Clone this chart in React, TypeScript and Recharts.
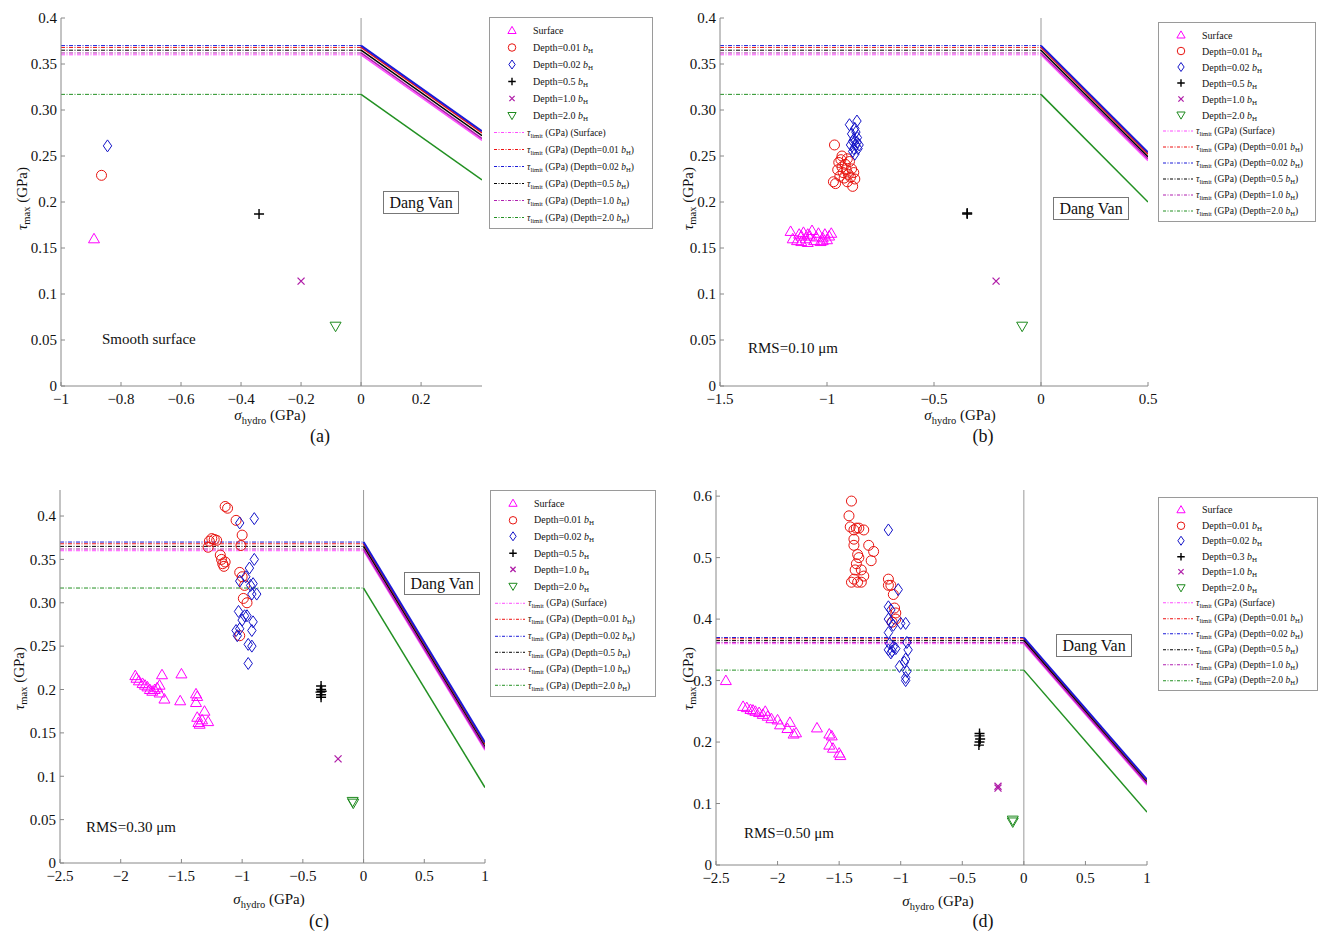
import React from 'react';
import { ComposedChart, Scatter, Line, XAxis, YAxis, ReferenceLine } from 'recharts';

type Pt = [number, number];

// ---- panel (a) smooth surface
const aSurface: Pt[] = [[-0.89, 0.160]];
const aDepth001: Pt[] = [[-0.865, 0.229]];
const aDepth002: Pt[] = [[-0.845, 0.261]];
const aDepth05: Pt[] = [[-0.34, 0.187]];
const aDepth10: Pt[] = [[-0.2, 0.114]];
const aDepth20: Pt[] = [[-0.085, 0.065]];

// ---- panel (b) RMS=0.10
const bSurface: Pt[] = [
  [-1.17, 0.168], [-1.16, 0.160], [-1.14, 0.158], [-1.13, 0.165], [-1.12, 0.157], [-1.11, 0.167],
  [-1.10, 0.160], [-1.09, 0.156], [-1.08, 0.163], [-1.07, 0.169], [-1.06, 0.158], [-1.05, 0.162],
  [-1.04, 0.166], [-1.03, 0.157], [-1.02, 0.161], [-1.01, 0.165], [-1.0, 0.159], [-0.99, 0.163],
  [-0.98, 0.166], [-1.12, 0.163], [-1.09, 0.165], [-1.02, 0.158],
];
const bDepth001: Pt[] = [
  [-0.965, 0.262], [-0.97, 0.222], [-0.96, 0.220], [-0.95, 0.235], [-0.945, 0.243], [-0.94, 0.228],
  [-0.935, 0.246], [-0.93, 0.238], [-0.925, 0.232], [-0.92, 0.226], [-0.915, 0.241], [-0.91, 0.235],
  [-0.905, 0.222], [-0.90, 0.230], [-0.895, 0.244], [-0.89, 0.227], [-0.885, 0.236], [-0.88, 0.217],
  [-0.875, 0.232], [-0.87, 0.225], [-0.93, 0.250], [-0.905, 0.247],
];
const bDepth002: Pt[] = [
  [-0.895, 0.284], [-0.89, 0.262], [-0.885, 0.274], [-0.88, 0.255], [-0.875, 0.268], [-0.87, 0.280],
  [-0.865, 0.262], [-0.86, 0.288], [-0.858, 0.270], [-0.855, 0.258], [-0.87, 0.252], [-0.86, 0.265],
  [-0.865, 0.276], [-0.85, 0.262], [-0.88, 0.266], [-0.875, 0.258],
];
const bDepth05: Pt[] = [[-0.345, 0.187], [-0.345, 0.188]];
const bDepth10: Pt[] = [[-0.21, 0.114]];
const bDepth20: Pt[] = [[-0.088, 0.065]];

// ---- panel (c) RMS=0.30
const cSurface: Pt[] = [
  [-1.88, 0.216], [-1.87, 0.213], [-1.85, 0.210], [-1.82, 0.207], [-1.80, 0.205], [-1.78, 0.203],
  [-1.76, 0.200], [-1.74, 0.198], [-1.72, 0.200], [-1.70, 0.202], [-1.68, 0.205], [-1.68, 0.196],
  [-1.66, 0.217], [-1.64, 0.189], [-1.50, 0.218], [-1.51, 0.187], [-1.38, 0.195], [-1.37, 0.192],
  [-1.38, 0.185], [-1.37, 0.168], [-1.36, 0.162], [-1.35, 0.160], [-1.33, 0.165], [-1.31, 0.175],
  [-1.28, 0.163],
];
const cDepth001: Pt[] = [
  [-1.14, 0.411], [-1.12, 0.409], [-1.05, 0.395], [-1.0, 0.378], [-1.01, 0.366], [-1.28, 0.364],
  [-1.27, 0.371], [-1.25, 0.374], [-1.23, 0.373], [-1.21, 0.372], [-1.18, 0.355], [-1.17, 0.350],
  [-1.16, 0.345], [-1.15, 0.342], [-1.14, 0.347], [-1.02, 0.335], [-1.0, 0.330], [-0.98, 0.320],
  [-0.99, 0.305], [-0.96, 0.300], [-1.02, 0.262],
];
const cDepth002: Pt[] = [
  [-1.02, 0.392], [-0.90, 0.397], [-0.90, 0.350], [-0.94, 0.340], [-1.02, 0.325], [-0.97, 0.330],
  [-0.93, 0.320], [-0.91, 0.322], [-0.88, 0.310], [-0.92, 0.310], [-1.03, 0.290], [-1.0, 0.280],
  [-0.98, 0.285], [-0.96, 0.285], [-1.05, 0.268], [-1.04, 0.262], [-1.02, 0.270], [-0.91, 0.278],
  [-0.92, 0.268], [-0.95, 0.252], [-0.92, 0.250], [-0.95, 0.230],
];
const cDepth05: Pt[] = [[-0.35, 0.200], [-0.35, 0.194], [-0.345, 0.198], [-0.355, 0.197], [-0.35, 0.191], [-0.35, 0.204]];
const cDepth10: Pt[] = [[-0.21, 0.120]];
const cDepth20: Pt[] = [[-0.09, 0.071], [-0.085, 0.069]];

// ---- panel (d) RMS=0.50
const dSurface: Pt[] = [
  [-2.42, 0.300], [-2.28, 0.258], [-2.25, 0.256], [-2.22, 0.253], [-2.20, 0.252], [-2.18, 0.250],
  [-2.15, 0.248], [-2.12, 0.245], [-2.10, 0.250], [-2.08, 0.242], [-2.05, 0.238], [-2.0, 0.236],
  [-1.98, 0.228], [-1.92, 0.222], [-1.90, 0.232], [-1.87, 0.213], [-1.85, 0.215], [-1.68, 0.223],
  [-1.58, 0.213], [-1.56, 0.210], [-1.58, 0.195], [-1.55, 0.190], [-1.50, 0.182], [-1.49, 0.178],
];
const dDepth001: Pt[] = [
  [-1.40, 0.592], [-1.42, 0.568], [-1.41, 0.550], [-1.38, 0.545], [-1.36, 0.548], [-1.34, 0.548],
  [-1.30, 0.545], [-1.38, 0.530], [-1.38, 0.520], [-1.26, 0.520], [-1.22, 0.510], [-1.24, 0.495],
  [-1.35, 0.505], [-1.34, 0.500], [-1.36, 0.490], [-1.37, 0.480], [-1.32, 0.480], [-1.38, 0.465],
  [-1.40, 0.460], [-1.35, 0.460], [-1.32, 0.460], [-1.30, 0.470], [-1.10, 0.465], [-1.10, 0.455],
  [-1.08, 0.455], [-1.06, 0.440], [-1.05, 0.418], [-1.04, 0.410], [-1.04, 0.400], [-1.07, 0.395],
];
const dDepth002: Pt[] = [
  [-1.10, 0.545], [-1.02, 0.448], [-1.10, 0.420], [-1.08, 0.415], [-1.10, 0.400], [-1.08, 0.395],
  [-1.06, 0.390], [-1.0, 0.393], [-0.96, 0.393], [-1.10, 0.378], [-1.09, 0.360], [-1.10, 0.350],
  [-1.08, 0.345], [-1.06, 0.355], [-1.04, 0.352], [-1.07, 0.348], [-0.95, 0.362], [-0.94, 0.350],
  [-0.96, 0.335], [-0.97, 0.330], [-1.01, 0.323], [-0.95, 0.315], [-0.96, 0.305], [-0.96, 0.300],
];
const dDepth05: Pt[] = [[-0.36, 0.210], [-0.36, 0.200], [-0.355, 0.205], [-0.365, 0.195], [-0.36, 0.214]];
const dDepth10: Pt[] = [[-0.21, 0.128], [-0.21, 0.125]];
const dDepth20: Pt[] = [[-0.09, 0.073], [-0.09, 0.070]];

// ---- Dang Van limit lines: value at sigma=0 and value at right edge of each panel
const limitAtZero = [0.360, 0.368, 0.370, 0.365, 0.362, 0.317];
const aLimitEnd = [0.267, 0.275, 0.277, 0.272, 0.269, 0.224];
const bLimitEnd = [0.245, 0.252, 0.254, 0.249, 0.247, 0.200];
const cLimitEnd = [0.130, 0.137, 0.139, 0.134, 0.132, 0.087];
const dLimitEnd = [0.130, 0.137, 0.139, 0.134, 0.132, 0.086];

// ---- ticks
const aXTicks = [-1, -0.8, -0.6, -0.4, -0.2, 0, 0.2];
const aXLabels = ['\u22121', '\u22120.8', '\u22120.6', '\u22120.4', '\u22120.2', '0', '0.2'];
const bXTicks = [-1.5, -1, -0.5, 0, 0.5];
const bXLabels = ['\u22121.5', '\u22121', '\u22120.5', '0', '0.5'];
const cdXTicks = [-2.5, -2, -1.5, -1, -0.5, 0, 0.5, 1];
const cdXLabels = ['\u22122.5', '\u22122', '\u22121.5', '\u22121', '\u22120.5', '0', '0.5', '1'];
const abYTicks = [0, 0.05, 0.1, 0.15, 0.2, 0.25, 0.3, 0.35, 0.4];
const abYLabels = ['0', '0.05', '0.1', '0.15', '0.2', '0.25', '0.30', '0.35', '0.4'];
const cYTicks = [0, 0.05, 0.1, 0.15, 0.2, 0.25, 0.3, 0.35, 0.4];
const cYLabels = ['0', '0.05', '0.1', '0.15', '0.2', '0.25', '0.30', '0.35', '0.4'];
const dYTicks = [0, 0.1, 0.2, 0.3, 0.4, 0.5, 0.6];
const dYLabels = ['0', '0.1', '0.2', '0.3', '0.4', '0.5', '0.6'];

const seriesNames = ['Surface', 'Depth=0.01', 'Depth=0.02', 'Depth=0.5', 'Depth=1.0', 'Depth=2.0'];
const limitNames = ['(Surface)', '(Depth=0.01', '(Depth=0.02', '(Depth=0.5', '(Depth=1.0', '(Depth=2.0'];

const markerColors = ['#ff00ff', '#e8130f', '#1414c8', '#000000', '#b01ea8', '#1e8a1e'];
const lineColors = ['#ff4cff', '#ee1111', '#1a1ad8', '#000000', '#b020b0', '#229022'];
const markerKinds = ['tri', 'circle', 'diamond', 'plus', 'x', 'down'];

const FONT = '"Liberation Serif", "DejaVu Serif", serif';

const Marker = ({ cx, cy, kind, color, s = 1 }: any) => {
  if (cx == null || cy == null) return null;
  const sw = 1;
  switch (kind) {
    case 'tri':
      return <path d={`M${cx},${cy - 5.5 * s} L${cx + 5.5 * s},${cy + 4 * s} L${cx - 5.5 * s},${cy + 4 * s} Z`} fill="none" stroke={color} strokeWidth={sw} />;
    case 'down':
      return <path d={`M${cx},${cy + 5.5 * s} L${cx + 5.5 * s},${cy - 4 * s} L${cx - 5.5 * s},${cy - 4 * s} Z`} fill="none" stroke={color} strokeWidth={sw} />;
    case 'circle':
      return <circle cx={cx} cy={cy} r={5 * s} fill="none" stroke={color} strokeWidth={sw} />;
    case 'diamond':
      return <path d={`M${cx},${cy - 6 * s} L${cx + 4.2 * s},${cy} L${cx},${cy + 6 * s} L${cx - 4.2 * s},${cy} Z`} fill="none" stroke={color} strokeWidth={sw} />;
    case 'plus':
      return <path d={`M${cx - 5 * s},${cy} L${cx + 5 * s},${cy} M${cx},${cy - 5 * s} L${cx},${cy + 5 * s}`} stroke={color} strokeWidth={1.4} />;
    case 'x':
      return <path d={`M${cx - 3.5 * s},${cy - 3.5 * s} L${cx + 3.5 * s},${cy + 3.5 * s} M${cx + 3.5 * s},${cy - 3.5 * s} L${cx - 3.5 * s},${cy + 3.5 * s}`} stroke={color} strokeWidth={1.3} />;
    default:
      return null;
  }
};

const toRows = (pts: Pt[]) => pts.map(([x, y]) => ({ x, y }));

const Sub = ({ children }: any) => <sub style={{ fontSize: '0.7em', verticalAlign: '-0.35em', lineHeight: 0 }}>{children}</sub>;

function Legend({ left, top, width, height, depth05Label }: any) {
  const rowH = (height - 8) / 12;
  const names = seriesNames.map((n, i) => (i === 3 ? depth05Label : n));
  return (
    <div style={{ position: 'absolute', left, top, width, height, border: '1px solid #9a9a9a', background: '#fff', boxSizing: 'border-box', fontFamily: FONT, fontSize: 10, color: '#111' }}>
      {names.map((n, i) => (
        <div key={n + i} style={{ position: 'absolute', left: 0, top: 4 + i * rowH, height: rowH, width: '100%', display: 'flex', alignItems: 'center' }}>
          <svg width={36} height={rowH} style={{ flex: 'none', marginLeft: 4 }}>
            <Marker cx={18} cy={rowH / 2} kind={markerKinds[i]} color={markerColors[i]} s={0.75} />
          </svg>
          <span style={{ marginLeft: 3 }}>{i === 0 ? 'Surface' : <>{n} <i>b</i><Sub>H</Sub></>}</span>
        </div>
      ))}
      {limitNames.map((n, i) => (
        <div key={n} style={{ position: 'absolute', left: 0, top: 4 + (i + 6) * rowH, height: rowH, width: '100%', display: 'flex', alignItems: 'center', whiteSpace: 'nowrap' }}>
          <svg width={32} height={rowH} style={{ flex: 'none', marginLeft: 3 }}>
            <line x1={1} x2={31} y1={rowH / 2} y2={rowH / 2} stroke={lineColors[i]} strokeWidth={1} strokeDasharray="3 1.5 1 1.5" />
          </svg>
          <span style={{ marginLeft: 2, fontSize: 9.5 }}>
            <i>τ</i><Sub>limit</Sub> (GPa) {i === 0 ? n : <>{n} <i>b</i><Sub>H</Sub>)</>}
          </span>
        </div>
      ))}
    </div>
  );
}

function Panel(p: any) {
  const padL = 60, padT = 10, padR = 16, axH = 30, padB = 8;
  const w = padL + p.plotW + padR;
  const h = padT + p.plotH + axH + padB;
  const [xMin, xMax] = p.xDomain;
  const series = [p.surface, p.d001, p.d002, p.d05, p.d10, p.d20];
  const tickStyle = { fontFamily: FONT, fontSize: 15, fill: '#111' };
  return (
    <>
      <div style={{ position: 'absolute', left: p.plotL - padL, top: p.plotT - padT }}>
        <ComposedChart width={w} height={h} margin={{ top: padT, right: padR, left: 0, bottom: padB }}>
          <XAxis xAxisId={0} type="number" dataKey="x" domain={p.xDomain} ticks={p.xTicks} allowDataOverflow
            tickFormatter={(v: number, i: number) => p.xLabels[i]} tick={tickStyle} stroke="#888" tickSize={-4} tickMargin={11} height={axH} interval={0} />
          <XAxis xAxisId="top" orientation="top" type="number" dataKey="x" domain={p.xDomain} ticks={p.xTicks} allowDataOverflow
            tick={false} stroke="#888" tickSize={-4} height={0} />
          <YAxis yAxisId={0} type="number" domain={p.yDomain} ticks={p.yTicks} allowDataOverflow
            tickFormatter={(v: number, i: number) => p.yLabels[i]} tick={tickStyle} stroke="#888" tickSize={-4} tickMargin={8} width={padL} interval={0} />
          <YAxis yAxisId="right" orientation="right" type="number" domain={p.yDomain} ticks={p.yTicks} allowDataOverflow
            tick={false} stroke="#888" tickSize={-4} width={0} />
          <ReferenceLine x={0} stroke="#999" strokeWidth={1} />
          {limitAtZero.map((v, i) => (
            <Line key={'h' + i} data={[{ x: xMin, y: v }, { x: 0, y: v }]} dataKey="y" stroke={lineColors[i]} strokeWidth={1}
              strokeDasharray="4 1.5 1 1.5" dot={false} isAnimationActive={false} legendType="none" />
          ))}
          {limitAtZero.map((v, i) => (
            <Line key={'s' + i} data={[{ x: 0, y: v }, { x: xMax, y: p.limitEnd[i] }]} dataKey="y" stroke={lineColors[i]}
              strokeWidth={i === 2 ? 2 : 1.5} dot={false} isAnimationActive={false} legendType="none" />
          ))}
          {series.map((pts: Pt[], i: number) => (
            <Scatter key={'p' + i} data={toRows(pts)} dataKey="y" isAnimationActive={false}
              shape={(sp: any) => <Marker cx={sp.cx} cy={sp.cy} kind={markerKinds[i]} color={markerColors[i]} />} />
          ))}
        </ComposedChart>
      </div>
      <div style={{ position: 'absolute', left: p.dv[0], top: p.dv[1], width: 76, height: 23, border: '1px solid #777', background: '#fff',
        boxSizing: 'border-box', fontFamily: FONT, fontSize: 16, textAlign: 'center', lineHeight: '21px', color: '#111' }}>Dang Van</div>
      <div style={{ position: 'absolute', left: p.note[0], top: p.note[1] - 10, fontFamily: FONT, fontSize: 15, color: '#111', whiteSpace: 'nowrap' }}>{p.noteText}</div>
      <div style={{ position: 'absolute', left: p.xTitle[0] - 100, width: 200, top: p.xTitle[1] - 9, textAlign: 'center', fontFamily: FONT, fontSize: 15, color: '#111', lineHeight: '17px' }}>
        <i>σ</i><Sub>hydro</Sub> (GPa)
      </div>
      <div style={{ position: 'absolute', left: p.yTitle[0] - 100, width: 200, top: p.yTitle[1] - 10, textAlign: 'center', fontFamily: FONT, fontSize: 15, color: '#111', transform: 'rotate(-90deg)' }}>
        <i>τ</i><Sub>max</Sub> (GPa)
      </div>
      <div style={{ position: 'absolute', left: p.tag[0] - 30, width: 60, top: p.tag[1] - 11, textAlign: 'center', fontFamily: FONT, fontSize: 18, color: '#111' }}>{p.tagText}</div>
      <Legend {...p.legend} depth05Label={p.depth05Label} />
    </>
  );
}

export default function App() {
  return (
    <div style={{ position: 'absolute', left: 0, top: 0, width: 1319, height: 936, background: '#fff', overflow: 'hidden' }}>
      <Panel plotL={61} plotT={18} plotW={421} plotH={368} xDomain={[-1, 0.403]} xTicks={aXTicks} xLabels={aXLabels}
        yDomain={[0, 0.4]} yTicks={abYTicks} yLabels={abYLabels}
        surface={aSurface} d001={aDepth001} d002={aDepth002} d05={aDepth05} d10={aDepth10} d20={aDepth20} limitEnd={aLimitEnd}
        dv={[383, 191]} note={[102, 341]} noteText="Smooth surface" xTitle={[270, 416]} yTitle={[22, 200]} tag={[320, 437]} tagText="(a)"
        legend={{ left: 489, top: 17, width: 164, height: 212 }} depth05Label="Depth=0.5" />
      <Panel plotL={720} plotT={18} plotW={428} plotH={368} xDomain={[-1.5, 0.5]} xTicks={bXTicks} xLabels={bXLabels}
        yDomain={[0, 0.4]} yTicks={abYTicks} yLabels={abYLabels}
        surface={bSurface} d001={bDepth001} d002={bDepth002} d05={bDepth05} d10={bDepth10} d20={bDepth20} limitEnd={bLimitEnd}
        dv={[1053, 197]} note={[748, 350]} noteText="RMS=0.10 μm" xTitle={[960, 416]} yTitle={[688, 200]} tag={[983, 437]} tagText="(b)"
        legend={{ left: 1158, top: 22, width: 158, height: 200 }} depth05Label="Depth=0.5" />
      <Panel plotL={60} plotT={490} plotW={425} plotH={373} xDomain={[-2.5, 1]} xTicks={cdXTicks} xLabels={cdXLabels}
        yDomain={[0, 0.43]} yTicks={cYTicks} yLabels={cYLabels}
        surface={cSurface} d001={cDepth001} d002={cDepth002} d05={cDepth05} d10={cDepth10} d20={cDepth20} limitEnd={cLimitEnd}
        dv={[404, 572]} note={[86, 829]} noteText="RMS=0.30 μm" xTitle={[269, 900]} yTitle={[19, 680]} tag={[319, 922]} tagText="(c)"
        legend={{ left: 490, top: 490, width: 166, height: 207 }} depth05Label="Depth=0.5" />
      <Panel plotL={716} plotT={490} plotW={431} plotH={375} xDomain={[-2.5, 1]} xTicks={cdXTicks} xLabels={cdXLabels}
        yDomain={[0, 0.61]} yTicks={dYTicks} yLabels={dYLabels}
        surface={dSurface} d001={dDepth001} d002={dDepth002} d05={dDepth05} d10={dDepth10} d20={dDepth20} limitEnd={dLimitEnd}
        dv={[1056, 634]} note={[744, 835]} noteText="RMS=0.50 μm" xTitle={[938, 902]} yTitle={[688, 680]} tag={[983, 922]} tagText="(d)"
        legend={{ left: 1158, top: 497, width: 160, height: 194 }} depth05Label="Depth=0.3" />
    </div>
  );
}
